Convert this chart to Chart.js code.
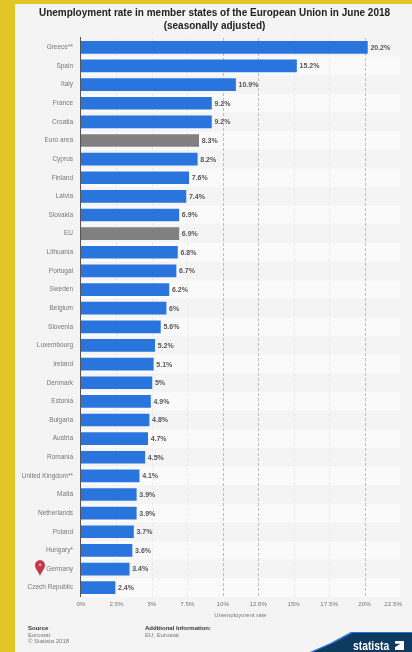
<!DOCTYPE html>
<html><head><meta charset="utf-8">
<style>
html,body{margin:0;padding:0;width:412px;height:652px;overflow:hidden;background:#e2c628;font-family:"Liberation Sans",Arial,sans-serif}
#panel{position:absolute;left:15px;top:4px;width:397px;height:648px;background:#f4f4f4}
#wrap{position:absolute;left:17px;top:0;width:395px;height:652px;filter:blur(.6px)}
.t{position:absolute;font-size:6px;color:#777;line-height:6.5px;white-space:nowrap;filter:blur(.5px)}
.t b{color:#333}
#logoB{position:absolute;left:310px;top:632px;width:102px;height:20px;background:#2a74dd;clip-path:polygon(0 100%,20% 55%,40% 0,100% 0,100% 100%)}
#logo{position:absolute;left:313px;top:633px;width:99px;height:19px;background:#0f3a5f;clip-path:polygon(0 100%,20% 55%,40% 0,100% 0,100% 100%)}
#logoT{position:absolute;left:353px;top:640px;font:bold 12px/13px "Liberation Sans",sans-serif;color:#fff;transform:scaleX(.86);transform-origin:0 0;filter:blur(.4px)}
#logoI{position:absolute;left:395px;top:641px;width:9px;height:9px;background:#fff;clip-path:polygon(0 0,100% 0,100% 100%,0 100%,0 70%,60% 30%,0 30%)}
#pin{position:absolute;left:35px;top:560px;filter:blur(.4px)}
</style>
<script src="https://cdn.jsdelivr.net/npm/chart.js@4"></script>
</head><body>
<div id="panel"></div>
<div id="wrap"><canvas id="c" width="395" height="652"></canvas></div>
<svg id="pin" width="10" height="16" viewBox="0 0 12 18" preserveAspectRatio="none"><path d="M6 18C4 13 0 10 0 6a6 6 0 0 1 12 0c0 4-4 7-6 12z" fill="#c23a4e"/><circle cx="6" cy="5.5" r="1.6" fill="#e8a0aa"/></svg>
<div class="t" style="left:28px;top:625px"><b>Source</b><br>Eurostat<br>© Statista 2018</div>
<div class="t" style="left:145px;top:625px"><b>Additional Information:</b><br>EU; Eurostat</div>
<div id="logoB"></div><div id="logo"></div><div id="logoT">statista</div><div id="logoI"></div>
<script>
const categories = ["Greece**","Spain","Italy","France","Croatia","Euro area","Cyprus","Finland","Latvia","Slovakia","EU","Lithuania","Portugal","Sweden","Belgium","Slovenia","Luxembourg","Ireland","Denmark","Estonia","Bulgaria","Austria","Romania","United Kingdom**","Malta","Netherlands","Poland","Hungary*","Germany","Czech Republic"];
const unemployment = [20.2,15.2,10.9,9.2,9.2,8.3,8.2,7.6,7.4,6.9,6.9,6.8,6.7,6.2,6,5.6,5.2,5.1,5,4.9,4.8,4.7,4.5,4.1,3.9,3.9,3.7,3.6,3.4,2.4];
const aggregates = ["Euro area","EU"];
const xTicks = [0,2.5,5,7.5,10,12.5,15,17.5,20,22.5];
const strongGrid = [10,12.5,20];
const titleLines = ["Unemployment rate in member states of the European Union in June 2018","(seasonally adjusted)"];
const axisTitle = "Unemployment rate";

const stripes = {id:"stripes",beforeDatasetsDraw(ch){
  const {ctx,chartArea:a,scales:{y,x}}=ch;const s=y.getPixelForValue(1)-y.getPixelForValue(0);
  ctx.save();
  categories.forEach((_,i)=>{ctx.fillStyle=i%2?"#fafafa":"#f4f4f4";ctx.fillRect(a.left,y.getPixelForValue(i)-s/2,a.right-a.left,s);});
  ctx.lineWidth=1;ctx.setLineDash([3,2]);
  xTicks.forEach(v=>{if(!v||v===22.5)return;ctx.strokeStyle=strongGrid.includes(v)?"#bdbdbd":"#ebebeb";const p=Math.round(x.getPixelForValue(v))+.5;ctx.beginPath();ctx.moveTo(p,a.top);ctx.lineTo(p,a.bottom);ctx.stroke();});
  ctx.setLineDash([]);ctx.strokeStyle="#555";ctx.beginPath();ctx.moveTo(a.left-.5,a.top-1);ctx.lineTo(a.left-.5,a.bottom);ctx.stroke();
  ctx.restore();
}};
const labels = {id:"vals",afterDatasetsDraw(ch){
  const {ctx}=ch;ctx.save();ctx.font="bold 7px 'Liberation Sans'";ctx.fillStyle="#555";ctx.textBaseline="middle";
  ch.getDatasetMeta(0).data.forEach((b,i)=>ctx.fillText(unemployment[i]+"%",b.x+3,b.y+.5));
  ctx.restore();
}};
new Chart(document.getElementById("c"),{
  type:"bar",
  data:{labels:categories,datasets:[{data:unemployment,
    backgroundColor:categories.map(c=>aggregates.includes(c)?"#808080":"#2a74dd"),
    barThickness:12,borderWidth:0}]},
  plugins:[stripes,labels],
  options:{indexAxis:"y",responsive:false,animation:false,
    layout:{padding:{left:0,right:0,top:0,bottom:33}},
    plugins:{legend:{display:false},tooltip:{enabled:false},
      title:{display:true,text:titleLines,color:"#222",font:{family:"'Liberation Sans'",size:10,weight:"bold",lineHeight:1.3},padding:{top:7,bottom:5}}},
    scales:{
      y:{grid:{display:false,drawTicks:false},border:{display:false},afterFit(s){s.width=64},
         ticks:{autoSkip:false,color:"#777",font:{family:"'Liberation Sans'",size:6.5},padding:8}},
      x:{min:0,max:22.5,afterFit(s){s.height=22;s.paddingLeft=0;s.paddingRight=12},grid:{display:false,drawTicks:false},border:{display:false},
         afterBuildTicks(s){s.ticks=xTicks.map(v=>({value:v}))},
         ticks:{color:"#777",font:{family:"'Liberation Sans'",size:6.2},padding:4,maxRotation:0,callback:v=>v===22.5?v+"%"+" ".repeat(8):v+"%"},
         title:{display:true,text:axisTitle,color:"#777",font:{family:"'Liberation Sans'",size:6},padding:{top:1,bottom:0}}}
    }}
});
</script>
</body></html>
